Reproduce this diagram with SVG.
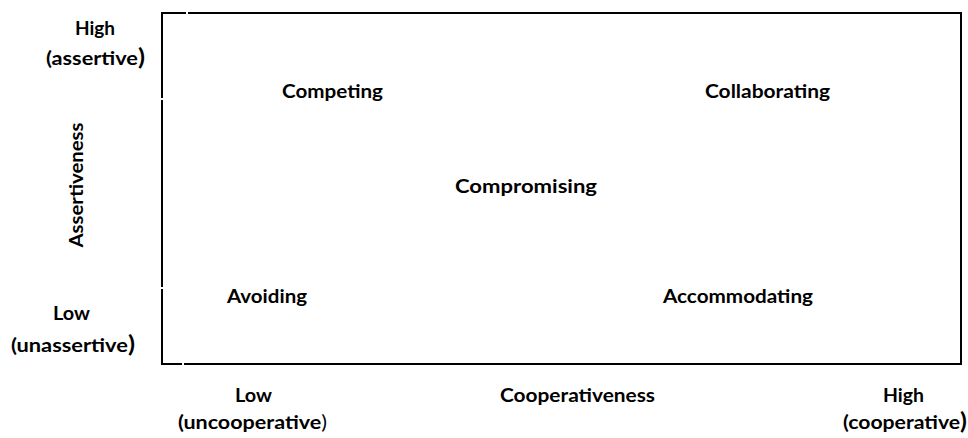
<svg xmlns="http://www.w3.org/2000/svg" width="968" height="438" viewBox="0 0 968 438">
<style>
text{font-family:Lato,"Open Sans","Liberation Sans",sans-serif;font-weight:700;font-size:19.5px;fill:#000;}
.big{font-size:23px;font-weight:700;}
.frame{stroke:#000;stroke-width:2;fill:none;}
</style>
<rect width="968" height="438" fill="#fff"/>
<g id="frame" class="frame">
<path d="M161 13H186M188 13H962"/>
<path d="M162 12V98M162 100V287M162 289V365"/>
<path d="M961 12V365"/>
<path d="M161 364H182M184 364H962"/>
</g>
<g id="y-axis">
<text x="75" y="35" textLength="40" lengthAdjust="spacingAndGlyphs">High</text>
<text x="46" y="65" textLength="99" lengthAdjust="spacingAndGlyphs">(assertive<tspan class="big">)</tspan></text>
<text transform="translate(83,185) rotate(-90)" text-anchor="middle" textLength="125" lengthAdjust="spacingAndGlyphs">Assertiveness</text>
<text x="53" y="320" textLength="37" lengthAdjust="spacingAndGlyphs">Low</text>
<text x="11" y="352" textLength="124" lengthAdjust="spacingAndGlyphs">(unassertive<tspan class="big">)</tspan></text>
</g>
<g id="x-axis">
<text x="235" y="402" textLength="37" lengthAdjust="spacingAndGlyphs">Low</text>
<text x="178" y="429" textLength="149" lengthAdjust="spacingAndGlyphs">(uncooperative<tspan style="font-weight:400">)</tspan></text>
<text x="500" y="402" textLength="155" lengthAdjust="spacingAndGlyphs">Cooperativeness</text>
<text x="883" y="402" textLength="41" lengthAdjust="spacingAndGlyphs">High</text>
<text x="843" y="429" textLength="124" lengthAdjust="spacingAndGlyphs">(cooperative<tspan class="big">)</tspan></text>
</g>
<g id="competing"><text x="282" y="98" textLength="101" lengthAdjust="spacingAndGlyphs">Competing</text></g>
<g id="collaborating"><text x="705" y="98" textLength="125" lengthAdjust="spacingAndGlyphs">Collaborating</text></g>
<g id="compromising"><text x="455" y="193" textLength="142" lengthAdjust="spacingAndGlyphs">Compromising</text></g>
<g id="avoiding"><text x="227" y="303" textLength="80" lengthAdjust="spacingAndGlyphs">Avoiding</text></g>
<g id="accommodating"><text x="663" y="303" textLength="150" lengthAdjust="spacingAndGlyphs">Accommodating</text></g>
<g id="connectors"></g>
</svg>
